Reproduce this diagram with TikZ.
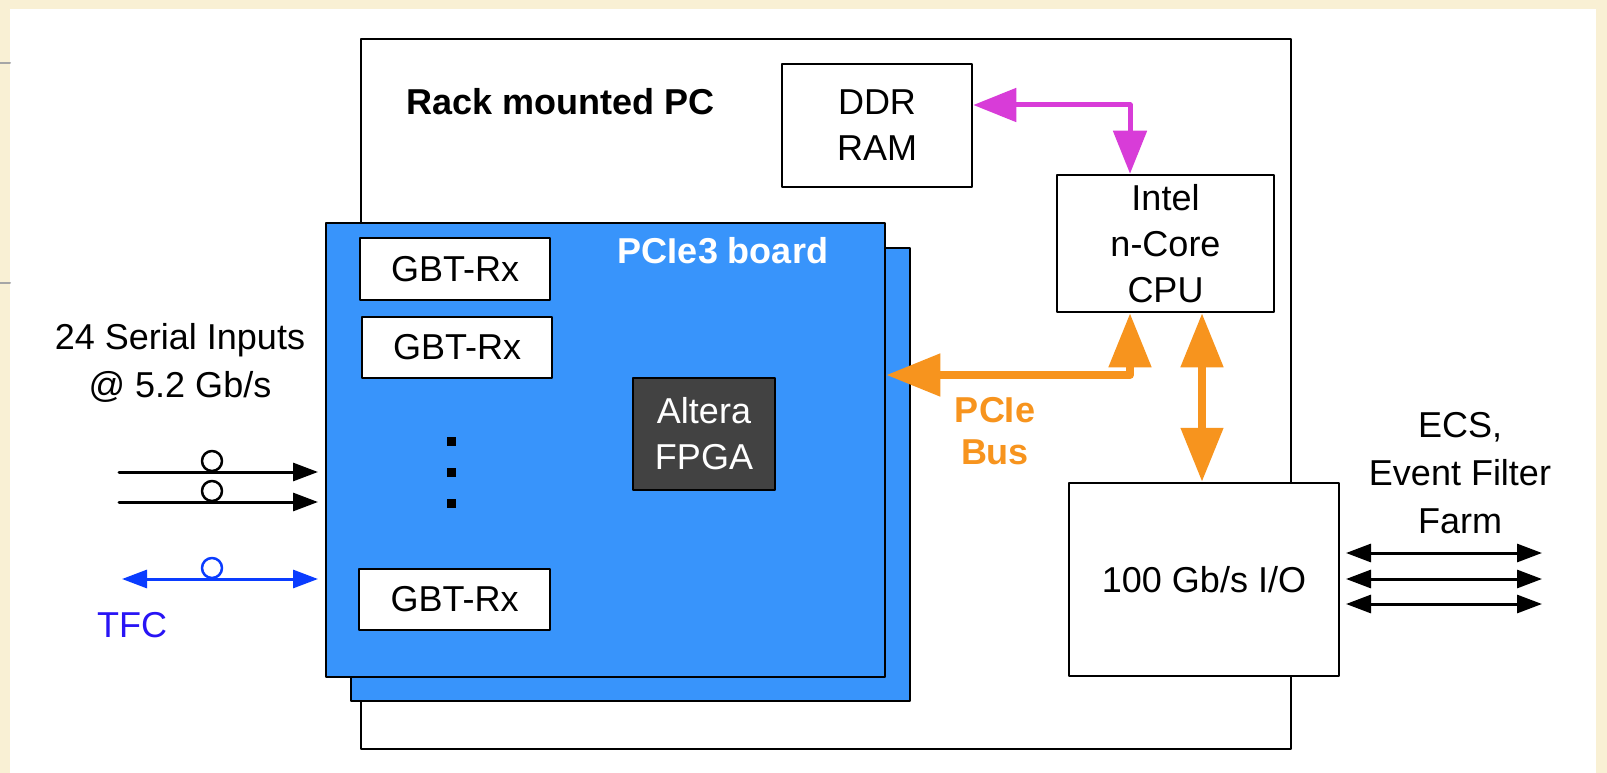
\documentclass[tikz,border=0pt]{standalone}
\usepackage{fontspec}
\setmainfont{Liberation Sans}
\usetikzlibrary{arrows.meta}
\definecolor{paper}{RGB}{249,240,212}
\definecolor{boardblue}{RGB}{56,148,251}
\definecolor{chipgray}{RGB}{66,66,66}
\definecolor{busorange}{RGB}{247,148,30}
\definecolor{memmagenta}{RGB}{216,60,216}
\definecolor{tfcblue}{RGB}{10,60,255}
\definecolor{tfctext}{RGB}{40,20,245}
\begin{document}
\begin{tikzpicture}[x=1pt, y=-1pt, line join=round, line cap=round,
	font=\fontsize{36}{46}\selectfont,
	box/.style={draw, line width=2.5pt, fill=white, inner sep=0pt, align=center},
	fibre/.style={line width=3pt, -{Triangle[length=25pt,width=18pt]}},
	duplex/.style={line width=3pt, {Triangle[length=25pt,width=18pt]}-{Triangle[length=25pt,width=18pt]}},
	membus/.style={memmagenta, line width=5pt, {Triangle[length=43pt,width=33pt]}-{Triangle[length=43pt,width=33pt]}},
	pcibus/.style={busorange, line width=8pt, {Triangle[length=54pt,width=41pt]}-{Triangle[length=54pt,width=41pt]}}]
	% page and panel
	\useasboundingbox (0,0) rectangle (1607,773);
	\fill[paper] (0,0) rectangle (1607,773);
	\fill[white] (10,9) rectangle (1596,773);
	\draw[gray!70, line width=2pt] (0,63) -- (10,63) (0,283) -- (10,283);
	% rack mounted PC
	\draw[line width=2.5pt] (361,39) rectangle (1291,749);
	\node[font=\fontsize{36}{46}\selectfont\bfseries] (racklabel) at (561,102) {Rack mounted PC};
	\node[box, minimum width=190pt, minimum height=123pt] (ddr) at (877,125.5) {DDR\\RAM};
	\node[box, minimum width=217pt, minimum height=137pt] (cpu) at (1165.5,243.5) {Intel\\n-Core\\CPU};
	\node[box, minimum width=270pt, minimum height=193pt] (io) at (1204,579.5) {100 Gb/s I/O};
	% PCIe3 board
	\draw[line width=2.5pt, fill=boardblue] (351,248) rectangle (910,701);
	\node[draw, line width=2.5pt, fill=boardblue, minimum width=559pt, minimum height=454pt, inner sep=0pt] (board) at (605.5,450) {};
	\node[white, font=\fontsize{36}{46}\selectfont\bfseries] (boardlabel) at (723,251) {PCIe3 board};
	\node[box, minimum width=190pt, minimum height=62pt] (rx1) at (455,269) {GBT-Rx};
	\node[box, minimum width=190pt, minimum height=61pt] (rx2) at (457,347.5) {GBT-Rx};
	\node[box, minimum width=191pt, minimum height=61pt] (rx3) at (454.5,599.5) {GBT-Rx};
	\foreach \y in {441,472,503}
		\fill (446.5,\y-4.5) rectangle (455.5,\y+4.5);
	\node[box, fill=chipgray, text=white, minimum width=142pt, minimum height=112pt] (fpga) at (704,434) {Altera\\FPGA};
	% buses
	\coordinate (mem) at (1130,105);
	\draw[membus] (ddr.east |- mem) -- (mem) -- (cpu.north -| mem);
	\coordinate (bus) at (1130,375);
	\draw[pcibus] (board.east |- bus) -- (bus) -- (cpu.south -| bus);
	\coordinate (iolink) at (1202,400);
	\draw[pcibus] (cpu.south -| iolink) -- (io.north -| iolink);
	\node[busorange, align=center, font=\fontsize{36}{42}\selectfont\bfseries] (buslabel) at (995,431) {PCIe\\Bus};
	% serial inputs
	\node[align=center, font=\fontsize{36}{48}\selectfont] (inlabel) at (180,363) {24 Serial Inputs\\@ 5.2 Gb/s};
	\foreach \y in {472,502}{
		\draw[fibre] (119,\y) -- (318,\y);
		\draw[line width=2.5pt] (212,\y-11) circle[radius=10pt];}
	\draw[duplex, tfcblue] (122,579) -- (318,579);
	\draw[line width=2.5pt, tfcblue] (212,568) circle[radius=10pt];
	\node[tfctext] (tfclabel) at (132,625) {TFC};
	% output links
	\foreach \y in {553,579,604}
		\draw[duplex] (1346,\y) -- (1542,\y);
	\node[align=center, font=\fontsize{36}{48}\selectfont] (outlabel) at (1460,473) {ECS,\\Event Filter\\Farm};
\end{tikzpicture}
\end{document}
